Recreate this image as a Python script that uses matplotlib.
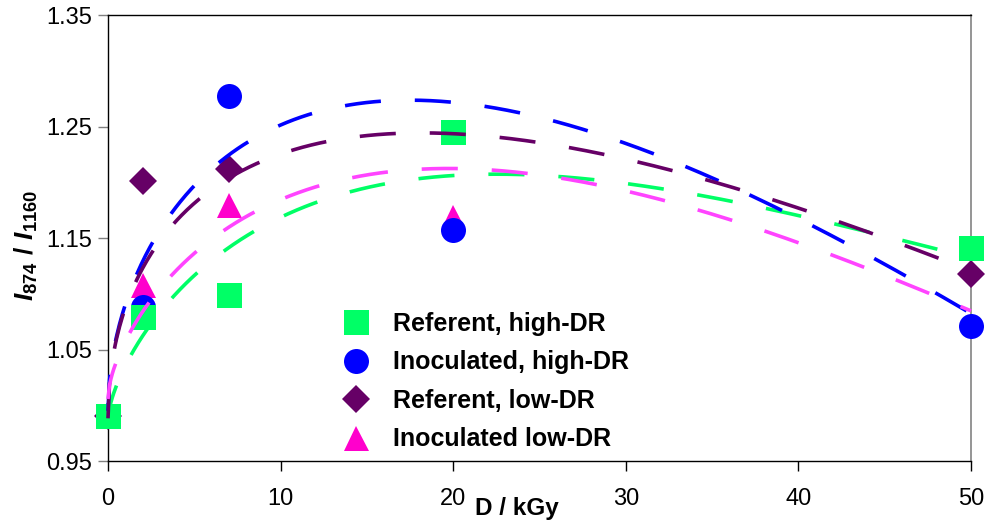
import numpy as np
import matplotlib
matplotlib.use("Agg")
import matplotlib.pyplot as plt

plt.rcParams['font.family'] = ['Liberation Sans', 'DejaVu Sans']
plt.rcParams['mathtext.fontset'] = 'custom'
plt.rcParams['mathtext.rm'] = 'Liberation Sans:bold'
plt.rcParams['mathtext.it'] = 'Liberation Sans:bold:italic'
plt.rcParams['mathtext.bf'] = 'Liberation Sans:bold'

# ---- data ----
dose = [0, 2, 7, 20, 50]
ref_high = [0.99, 1.079, 1.099, 1.245, 1.141]
inoc_high = [0.99, 1.088, 1.277, 1.157, 1.071]
ref_low = [0.99, 1.201, 1.212, np.nan, 1.118]
inoc_low = [0.99, 1.108, 1.180, 1.169, np.nan]

labels = ["Referent, high-DR", "Inoculated, high-DR", "Referent, low-DR", "Inoculated low-DR"]

# points
ref_high_curve_x = [0, 0.64, 1.45, 2.72, 3.71, 5.2, 6.8, 8.6, 10.5, 12.5, 14, 16.9, 18.6, 20.7, 22.8, 24.9,
                    26.9, 29.1, 31.2, 33.3, 35.3, 37.4, 38.9, 41.5, 43.6, 45.5, 47.6, 50]
ref_high_curve_y = [0.99, 1.0155, 1.046, 1.078, 1.099, 1.123, 1.142, 1.16, 1.172, 1.184, 1.19, 1.199, 1.203,
                    1.204, 1.205, 1.205, 1.203, 1.201, 1.197, 1.192, 1.187, 1.18, 1.176, 1.167, 1.158, 1.15,
                    1.14, 1.13]
inoc_high_curve_x = [0, 0.5, 1.16, 1.85, 2.78, 4.0, 5.3, 6.8, 8.5, 10.5, 12.4, 18.7, 20.8, 22.8, 24.9, 26.9,
                     29.0, 30.9, 32.9, 34.9, 36.8, 38.6, 40.6, 42.5, 44.2, 46.2, 47.9, 49.5]
inoc_high_curve_y = [0.997, 1.06, 1.094, 1.124, 1.151, 1.18, 1.204, 1.224, 1.241, 1.255, 1.264, 1.272, 1.268,
                     1.264, 1.257, 1.2496, 1.24, 1.23, 1.218, 1.206, 1.192, 1.179, 1.164, 1.149, 1.134, 1.116,
                     1.101, 1.084]
ref_low_curve_x = [0, 0.58, 1.74, 2.84, 4.17, 5.68, 7.76, 9.33, 12.3, 17.2, 20.7, 24.9, 29, 33, 37, 41, 45, 49]
ref_low_curve_y = [0.99, 1.06, 1.117, 1.145, 1.17, 1.19, 1.211, 1.221, 1.235, 1.243, 1.242, 1.235, 1.225,
                   1.21, 1.192, 1.172, 1.15, 1.126]
inoc_low_curve_x = [0, 0.58, 1.56, 2.67, 3.9, 5.45, 7.1, 8.9, 10.8, 12.8, 17, 20, 23.2, 25.3, 27.4, 29.5,
                    31.5, 33.5, 35.6, 37.6, 39.6, 41.5, 43.5, 45.4, 47.5, 49.4]
inoc_low_curve_y = [1.007, 1.041, 1.072, 1.096, 1.121, 1.144, 1.163, 1.178, 1.19, 1.199, 1.209, 1.211, 1.208,
                    1.205, 1.2, 1.193, 1.187, 1.178, 1.17, 1.16, 1.15, 1.137, 1.127, 1.114, 1.101, 1.086]

xticks = [0, 10, 20, 30, 40, 50]
yticks = [0.95, 1.05, 1.15, 1.25, 1.35]

# ---- styles ----
marker_colors = ['#00FF66', '#0000FF', '#660066', '#FF00CC']
line_colors = ['#00FF66', '#0000FF', '#660066', '#FF44FF']
markers = ['s', 'o', 'D', '^']
msizes = [18, 18, 14.5, 18]
mzorder = [5, 4, 4.5, 3]

fig = plt.figure(figsize=(9.87, 5.23), dpi=100)
L, R, T, B = 108, 971, 15, 461
W, H = 987, 523
ax = fig.add_axes([L / W, 1 - B / H, (R - L) / W, (B - T) / H])


def trend(xs, ys):
    xs = np.asarray(xs, float)
    ys = np.asarray(ys, float)
    basis = lambda v: np.column_stack([np.ones_like(v), np.sqrt(v), v, v ** 1.5, v ** 2])
    coef, *_ = np.linalg.lstsq(basis(xs), ys, rcond=None)
    xd = np.linspace(0, 50, 600)
    return xd, basis(xd) @ coef


series = [ref_high, inoc_high, ref_low, inoc_low]
curves = [(ref_high_curve_x, ref_high_curve_y), (inoc_high_curve_x, inoc_high_curve_y),
          (ref_low_curve_x, ref_low_curve_y), (inoc_low_curve_x, inoc_low_curve_y)]

handles = []
for i in range(4):
    h, = ax.plot(dose, series[i], linestyle='none', marker=markers[i], ms=msizes[i],
                 mfc=marker_colors[i], mec=marker_colors[i], mew=0, zorder=mzorder[i], label=labels[i],
                 clip_on=False)
    handles.append(h)
    xd, yd = trend(*curves[i])
    ax.plot(xd, yd, color=line_colors[i], lw=2.6, dashes=(10, 9.4), zorder=6, clip_on=False)

ax.set_xlim(0, 50)
ax.set_ylim(0.95, 1.35)
ax.set_xticks(xticks)
ax.set_xticklabels([str(t) for t in xticks])
ax.set_yticks(yticks)
ax.set_yticklabels([f"{t:.2f}" for t in yticks])

ax.tick_params(axis='x', direction='out', length=7.5, width=1, color='black', pad=12, labelsize=17)
ax.tick_params(axis='y', direction='out', length=7.5, width=1, color='#808080', pad=4, labelsize=17)

for s in ['left', 'bottom', 'top']:
    ax.spines[s].set_color('black')
    ax.spines[s].set_linewidth(1.0)
ax.spines['right'].set_color('#8c8c8c')
ax.spines['right'].set_linewidth(1.3)

ax.set_xlabel('D / kGy', fontsize=17.5, fontweight='bold', va='baseline')
ax.xaxis.set_label_coords((517 - L) / (R - L), (B - 515) / (B - T))
ax.set_ylabel(r'$I_{874}\ /\ I_{1160}$', fontsize=19, va='center', ha='center')
ax.yaxis.set_label_coords((26 - L) / (R - L), (B - 245) / (B - T))

leg = ax.legend(handles=handles, loc='upper left',
                bbox_to_anchor=((331 - L) / (R - L), (B - 312) / (B - T)),
                frameon=False, borderaxespad=0, borderpad=0, handlelength=2.0,
                handletextpad=0.5, labelspacing=0.58,
                prop={'size': 18, 'weight': 'bold'}, numpoints=1)

fig.savefig('out.png', dpi=100)
